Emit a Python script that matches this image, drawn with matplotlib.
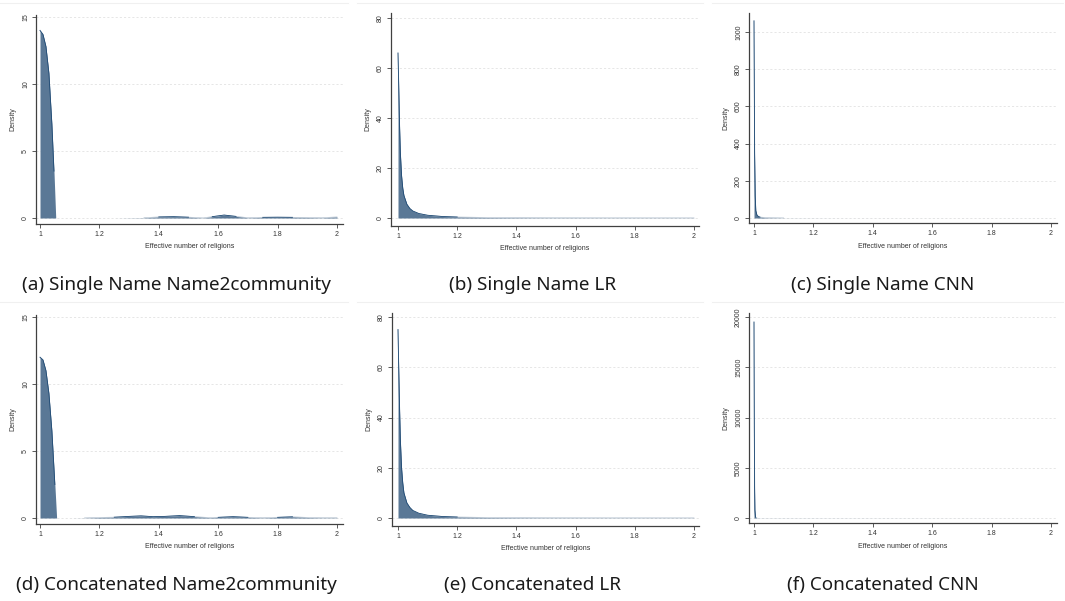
import matplotlib
matplotlib.use("Agg")
import matplotlib.pyplot as plt
from matplotlib.lines import Line2D
import numpy as np

# ---------------- data ----------------
x_a = [1.0, 1.01, 1.02, 1.03, 1.04, 1.047, 1.053, 1.25, 1.35, 1.40, 1.45, 1.50, 1.55,
       1.58, 1.62, 1.66, 1.70, 1.75, 1.80, 1.85, 1.90, 1.95, 2.0]
y_a = [14.0, 13.7, 12.8, 10.8, 7.0, 3.5, 0.0, 0.0, 0.02, 0.08, 0.10, 0.06, 0.01,
       0.10, 0.22, 0.12, 0.02, 0.05, 0.06, 0.05, 0.04, 0.02, 0.08]

x_b = [1.0, 1.002, 1.005, 1.008, 1.012, 1.016, 1.02, 1.03, 1.04, 1.05, 1.07, 1.10,
       1.15, 1.20, 1.30, 1.50, 1.70, 2.0]
y_b = [66, 55, 38, 26, 17, 12, 9, 5.5, 3.8, 2.8, 1.8, 1.1, 0.6, 0.4, 0.2, 0.1, 0.07, 0.05]

x_c = [1.0, 1.001, 1.002, 1.004, 1.006, 1.01, 1.015, 1.02, 1.04, 1.10, 1.30, 2.0]
y_c = [1060, 700, 350, 120, 40, 15, 8, 5, 2, 0.5, 0.1, 0.02]

x_d = [1.0, 1.01, 1.02, 1.03, 1.04, 1.05, 1.056, 1.10, 1.15, 1.20, 1.25, 1.30, 1.34,
       1.38, 1.42, 1.47, 1.52, 1.57, 1.60, 1.65, 1.70, 1.75, 1.80, 1.85, 1.90, 1.95, 2.0]
y_d = [12.0, 11.8, 11.0, 9.3, 6.5, 2.5, 0.0, 0.0, 0.01, 0.04, 0.06, 0.12, 0.16,
       0.10, 0.12, 0.18, 0.10, 0.03, 0.05, 0.10, 0.05, 0.02, 0.05, 0.09, 0.04, 0.02, 0.02]

x_e = [1.0, 1.002, 1.005, 1.008, 1.012, 1.016, 1.02, 1.03, 1.04, 1.05, 1.07, 1.10,
       1.15, 1.20, 1.30, 1.50, 1.70, 2.0]
y_e = [75, 62, 45, 31, 20, 14, 10, 6, 4.2, 3.0, 1.9, 1.1, 0.6, 0.4, 0.2, 0.1, 0.07, 0.05]

x_f = [1.0, 1.0005, 1.001, 1.002, 1.003, 1.005, 1.01, 2.0]
y_f = [19500, 14000, 9000, 3000, 800, 100, 10, 0]

yticks_a = [0, 5, 10, 15]
yticks_b = [0, 20, 40, 60, 80]
yticks_c = [0, 200, 400, 600, 800, 1000]
yticks_d = [0, 5, 10, 15]
yticks_e = [0, 20, 40, 60, 80]
yticks_f = [0, 5000, 10000, 15000, 20000]
xticks = [1, 1.2, 1.4, 1.6, 1.8, 2]
xticklabels = ["1", "1.2", "1.4", "1.6", "1.8", "2"]

captions = ["(a) Single Name Name2community", "(b) Single Name LR", "(c) Single Name CNN",
            "(d) Concatenated Name2community", "(e) Concatenated LR", "(f) Concatenated CNN"]

# ---------------- layout ----------------
W, H = 1065, 601
fig = plt.figure(figsize=(W / 100, H / 100), dpi=100)
fig.patch.set_facecolor("white")

# pixel boxes: (left, right, top, bottom, px of x=1, px of x=2, px of y=0, px of top tick)
boxes = [
    (36, 343, 15, 224, 40, 337, 218, 17),
    (391, 699, 13, 226, 398, 694, 218, 18),
    (749, 1057, 13, 223, 754, 1051, 218, 32),
    (36, 343, 315, 524, 40, 337, 518, 317),
    (392, 699, 313, 526, 398, 694, 518, 317),
    (749, 1057, 313, 523, 754, 1051, 518, 317),
]
series = [(x_a, y_a, yticks_a, 15), (x_b, y_b, yticks_b, 80),
          (x_c, y_c, yticks_c, 1000), (x_d, y_d, yticks_d, 15),
          (x_e, y_e, yticks_e, 80), (x_f, y_f, yticks_f, 20000)]
cap_x = [176, 533, 883, 176, 533, 883]
cap_y = [285, 285, 285, 585, 585, 585]

fill_c = "#5a7896"
edge_c = "#1f4a74"
axis_c = "#404040"
tick_font = "Liberation Sans"

for i, ((L, R, T, B, px1, px2, py0, pyt), (xs, ys, yt, ytop)) in enumerate(zip(boxes, series)):
    ax = fig.add_axes([L / W, 1 - B / H, (R - L) / W, (B - T) / H])
    xu = (px2 - px1)
    ax.set_xlim(1 - (px1 - L) / xu, 2 + (R - px2) / xu)
    yu = (py0 - pyt) / ytop
    ax.set_ylim(-(B - py0) / yu, ytop + (pyt - T) / yu)

    xs_a = np.asarray(xs, float)
    ys_a = np.asarray(ys, float)
    ax.fill_between(xs_a, 0, ys_a, color=fill_c, lw=0, zorder=2)
    light = np.ma.masked_where(ys_a < 0.0002 * ytop, ys_a)
    ax.plot(xs_a, light, color=fill_c, lw=0.5, alpha=0.45, zorder=2.5)
    masked = np.ma.masked_where(ys_a < 0.003 * ytop, ys_a)
    ax.plot(xs_a, masked, color=edge_c, lw=0.6, zorder=3)

    for v in yt:
        ax.axhline(v, color="#dcdcdc", lw=0.5, ls=(0, (3, 3)), zorder=1)

    for s in ["top", "right"]:
        ax.spines[s].set_visible(False)
    for s in ["left", "bottom"]:
        ax.spines[s].set_color(axis_c)
        ax.spines[s].set_linewidth(0.9)

    ax.set_xticks(xticks)
    ax.set_xticklabels(xticklabels)
    ax.set_yticks(yt)
    ax.set_yticklabels([str(v) for v in yt], rotation=90, va="center")
    ax.tick_params(axis="both", length=3, width=0.6, color=axis_c,
                   labelsize=5, labelcolor="#333333", pad=2)
    for lab in ax.get_xticklabels() + ax.get_yticklabels():
        lab.set_family(tick_font)
    ax.set_xlabel("Effective number of religions", fontsize=5, family=tick_font,
                  color="#333333", labelpad=4)
    ax.set_ylabel("Density", fontsize=5, family=tick_font, color="#333333", labelpad=4)
    ax.patch.set_alpha(0)

    fig.text(cap_x[i] / W, 1 - cap_y[i] / H, captions[i], ha="center", va="center",
             fontsize=13.6, family="Noto Sans", color="#1a1a1a")

# faint image borders at the top of each panel image
for (x0, x1) in [(0, 348), (357, 703), (712, 1063)]:
    for yy in (3, 302):
        fig.add_artist(Line2D([x0 / W, x1 / W], [1 - yy / H, 1 - yy / H],
                              color="#f0f0f0", lw=0.8))

fig.savefig("out.png", dpi=100)
